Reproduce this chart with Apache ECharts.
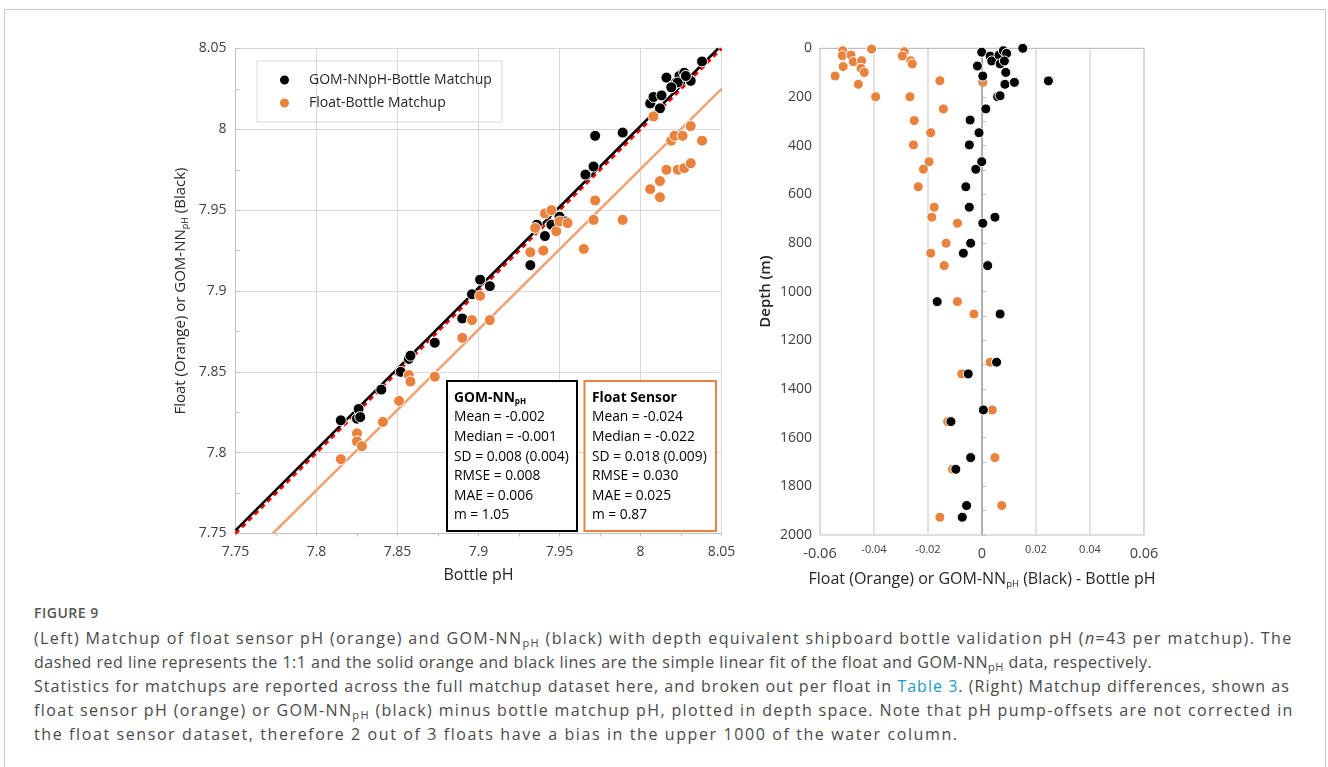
<!DOCTYPE html>
<html>
<head>
<meta charset="utf-8">
<script src="https://cdn.jsdelivr.net/npm/echarts@6/dist/echarts.min.js"></script>
<style>
html,body{margin:0;padding:0;background:#fff;width:1328px;height:767px;overflow:hidden;}
#frame{position:absolute;left:4px;top:9px;width:1322px;height:800px;border:1px solid #c8c8c8;box-sizing:border-box;}
#chart{position:absolute;left:0;top:0;width:1328px;height:600px;}
#cap{position:absolute;left:34px;top:603px;font-family:"Open Sans",sans-serif;color:#4a4a4a;}
#cap .t{font-size:14px;font-weight:600;line-height:20px;color:#555;letter-spacing:0.5px;}
#cap .b{margin-top:3px;font-size:16px;line-height:24px;white-space:nowrap;}
#cap .l{display:block;height:24px;}
#cap sub{font-size:11px;vertical-align:-3px;line-height:0;}
#cap a{color:#1a9bc9;text-decoration:none;}
</style>
</head>
<body>
<div id="frame"></div>
<div id="chart"></div>
<div id="cap">
<div class="t">FIGURE 9</div>
<div class="b">
<span class="l" style="letter-spacing:1.37px">(Left) Matchup of float sensor pH (orange) and GOM-NN<sub>pH</sub> (black) with depth equivalent shipboard bottle validation pH (<i>n</i>=43 per matchup). The</span>
<span class="l" style="letter-spacing:0.5px">dashed red line represents the 1:1 and the solid orange and black lines are the simple linear fit of the float and GOM-NN<sub>pH</sub> data, respectively.</span>
<span class="l" style="letter-spacing:1.02px">Statistics for matchups are reported across the full matchup dataset here, and broken out per float in <a>Table 3</a>. (Right) Matchup differences, shown as</span>
<span class="l" style="letter-spacing:1.36px">float sensor pH (orange) or GOM-NN<sub>pH</sub> (black) minus bottle matchup pH, plotted in depth space. Note that pH pump-offsets are not corrected in</span>
<span class="l" style="letter-spacing:1.6px">the float sensor dataset, therefore 2 out of 3 floats have a bias in the upper 1000 of the water column.</span>
</div>
</div>
<script>
// ---------- Left panel data (bottle pH vs predicted pH) ----------
const gomBottlePH = [7.815,7.826,7.825,7.827,7.840,7.852,7.857,7.858,7.873,7.890,7.896,7.907,7.901,
  7.932,7.941,7.936,7.945,7.950,7.954,7.966,7.971,7.972,7.989,8.006,8.008,8.013,8.012,8.016,
  8.020,8.022,8.024,8.027,8.023,8.031,8.038,8.019,8.028];
const gomPH = [7.820,7.827,7.821,7.822,7.839,7.850,7.858,7.860,7.868,7.883,7.898,7.903,7.907,
  7.916,7.934,7.941,7.941,7.946,7.943,7.972,7.977,7.996,7.998,8.016,8.020,8.021,8.013,8.032,
  8.027,8.029,8.033,8.035,8.029,8.030,8.042,8.026,8.033];
const floatBottlePH = [7.815,7.825,7.825,7.828,7.841,7.851,7.857,7.858,7.873,7.890,7.896,7.907,7.901,
  7.932,7.940,7.935,7.941,7.945,7.948,7.950,7.955,7.965,7.971,7.972,7.989,8.006,8.012,8.012,
  8.016,8.023,8.027,8.031,8.019,8.021,8.026,8.031,8.038,8.008];
const floatPH = [7.796,7.812,7.807,7.804,7.819,7.832,7.848,7.844,7.847,7.871,7.882,7.882,7.897,
  7.924,7.925,7.939,7.948,7.950,7.937,7.943,7.942,7.926,7.944,7.956,7.944,7.963,7.968,7.958,
  7.975,7.975,7.976,7.979,7.993,7.996,7.996,8.002,7.993,8.008];
// lines: 1:1, GOM-NN fit, float fit (end points)
const oneToOneX = [7.75, 8.05];
const oneToOneY = [7.75, 8.05];
const gomFitX = [7.75, 8.048];
const gomFitY = [7.752, 8.05];
const floatFitX = [7.773, 8.05];
const floatFitY = [7.75, 8.025];
const leftTickLabels = ['7.75','7.8','7.85','7.9','7.95','8','8.05'];

// ---------- Right panel data (difference vs depth) ----------
const gomDiff = [-0.0001,0.0030,0.0036,0.0063,0.0079,0.0091,0.0067,0.0083,0.0151,-0.0017,0.0003,0.0088,
  0.0085,0.0120,0.0058,0.0067,0.0014,-0.0044,-0.0011,-0.0047,-0.0001,-0.0023,-0.0060,-0.0047,0.0048,
  0.0003,-0.0042,-0.0069,0.0021,0.0246,-0.0166,0.0067,0.0054,-0.0051,0.0005,-0.0115,-0.0042,-0.0097,
  -0.0057,-0.0073];
const gomDepth = [16,32,52,28,10,21,64,52,0,73,114,99,148,140,199,195,249,295,347,397,466,497,569,653,694,
  719,801,842,893,134,1041,1092,1290,1338,1486,1534,1682,1730,1879,1927];
const floatDiff = [-0.0516,-0.0517,-0.0485,-0.0477,-0.0446,-0.0448,-0.0436,-0.0514,-0.0544,-0.0458,-0.0409,
  -0.0394,-0.0288,-0.0295,-0.0264,-0.0258,-0.0267,-0.0156,-0.0143,-0.0251,-0.0190,-0.0254,-0.0196,-0.0217,
  -0.0236,-0.0177,-0.0186,-0.0091,-0.0133,-0.0190,-0.0140,0.0003,-0.0091,-0.0030,0.0030,-0.0075,0.0038,
  -0.0127,0.0048,-0.0109,0.0073,-0.0156];
const floatDepth = [10,30,28,55,51,82,99,75,114,148,3,199,14,32,51,64,199,133,249,297,347,397,466,497,569,
  653,694,719,801,842,893,140,1041,1092,1290,1338,1486,1534,1682,1730,1879,1927];
// the reference prints the end and zero ticks larger than the others
const rightXBigTicks = [-0.06, 0, 0.06];
const rightXBigLabels = ['-0.06', '0', '0.06'];
const rightXSmallTicks = [-0.04, -0.02, 0.02, 0.04];
const rightXSmallLabels = ['-0.04', '-0.02', '0.02', '0.04'];
const rightYTickLabels = ['0','200','400','600','800','1000','1200','1400','1600','1800','2000'];

// ---------- Stats text ----------
const gomStats = ['Mean = -0.002','Median = -0.001','SD = 0.008 (0.004)','RMSE = 0.008','MAE = 0.006','m = 1.05'];
const floatStats = ['Mean = -0.024','Median = -0.022','SD = 0.018 (0.009)','RMSE = 0.030','MAE = 0.025','m = 0.87'];

const ORANGE = '#E8823C';
const ORANGE_LINE = '#F0A274';
const FONT = 'Open Sans';
const zip = (a, b) => a.map((v, i) => [v, b[i]]);
function pick(ticks, labels, v) {
  let k = 0;
  ticks.forEach((t, i) => { if (Math.abs(t - v) < 1e-6) k = i; });
  return labels[k];
}

const chart = echarts.init(document.getElementById('chart'));
const labelColor = '#404040';

const option = {
  animation: false,
  textStyle: { fontFamily: FONT },
  grid: [
    { left: 235.5, top: 48.5, width: 486, height: 485, show: true, borderColor: '#d9d9d9', borderWidth: 1 },
    { left: 820, top: 48.3, width: 324, height: 486.7, show: true, borderColor: '#bfbfbf', borderWidth: 1 }
  ],
  legend: {
    data: ['GOM-NNpH-Bottle Matchup', 'Float-Bottle Matchup'],
    left: 257, top: 61, orient: 'vertical',
    borderColor: '#d9d9d9', borderWidth: 1,
    padding: [12, 10, 12, 21], itemGap: 9,
    itemWidth: 11, itemHeight: 11, icon: 'circle',
    textStyle: { fontSize: 14, color: '#262626', fontFamily: FONT, padding: [0, 0, 0, 14] }
  },
  xAxis: [
    {
      type: 'value', gridIndex: 0, min: 7.75, max: 8.05, interval: 0.05,
      axisLine: { lineStyle: { color: '#bfbfbf' } },
      axisTick: { show: true, length: 3, lineStyle: { color: '#bfbfbf' } },
      minorTick: { show: true, splitNumber: 2, length: 3, lineStyle: { color: '#bfbfbf' } },
      splitLine: { show: true, lineStyle: { color: '#d9d9d9' } },
      axisLabel: { fontSize: 14, color: labelColor, margin: 12, formatter: (v, i) => leftTickLabels[i] },
      name: 'Bottle pH', nameLocation: 'middle', nameGap: 34,
      nameTextStyle: { fontSize: 16, color: '#262626' }
    },
    {
      type: 'value', gridIndex: 1, min: -0.06, max: 0.06, interval: 0.02, position: 'bottom',
      axisLine: { lineStyle: { color: '#bfbfbf' } },
      axisTick: { show: false },
      splitLine: { show: true, lineStyle: { color: '#d9d9d9', width: 1.5 } },
      axisLabel: {
        margin: 11, color: labelColor, fontSize: 14.5,
        customValues: rightXBigTicks,
        formatter: (v) => pick(rightXBigTicks, rightXBigLabels, v)
      },
      name: 'Float (Orange) or GOM-NN{s|pH} (Black) - Bottle pH', nameLocation: 'middle', nameGap: 35,
      nameTextStyle: {
        fontSize: 16, color: '#262626',
        rich: { s: { fontSize: 9.5, color: '#262626', padding: [9, 0, 0, 0], fontFamily: FONT } }
      }
    },
    {
      type: 'value', gridIndex: 1, min: -0.06, max: 0.06, interval: 0.02, position: 'bottom',
      axisLine: { show: false },
      axisTick: { show: false },
      splitLine: { show: false },
      axisLabel: {
        margin: 9, color: labelColor, fontSize: 11,
        customValues: rightXSmallTicks,
        formatter: (v) => pick(rightXSmallTicks, rightXSmallLabels, v)
      }
    }
  ],
  yAxis: [
    {
      type: 'value', gridIndex: 0, min: 7.75, max: 8.05, interval: 0.05,
      axisLine: { show: true, lineStyle: { color: '#bfbfbf' } },
      axisTick: { show: true, inside: true, length: 4, lineStyle: { color: '#bfbfbf' } },
      minorTick: { show: true, splitNumber: 2, length: 4, lineStyle: { color: '#bfbfbf' } },
      splitLine: { show: true, lineStyle: { color: '#d9d9d9' } },
      axisLabel: { fontSize: 14, color: labelColor, margin: 9, formatter: (v, i) => leftTickLabels[i] },
      name: 'Float (Orange) or GOM-NN{s|pH} (Black)', nameLocation: 'middle', nameGap: 46, nameRotate: 90,
      nameTextStyle: {
        fontSize: 15, color: '#262626',
        rich: { s: { fontSize: 9, color: '#262626', padding: [9, 0, 0, 0], fontFamily: FONT } }
      }
    },
    {
      type: 'value', gridIndex: 1, min: 0, max: 2000, interval: 200, inverse: true,
      axisLine: { show: true, lineStyle: { color: '#bfbfbf' } },
      axisTick: { show: true, inside: true, length: 4, lineStyle: { color: '#bfbfbf' } },
      minorTick: { show: true, splitNumber: 2, length: 4, lineStyle: { color: '#bfbfbf' } },
      splitLine: { show: false },
      axisLabel: { fontSize: 14, color: labelColor, margin: 8, formatter: (v, i) => rightYTickLabels[i] },
      name: 'Depth (m)', nameLocation: 'middle', nameGap: 47, nameRotate: 90,
      nameTextStyle: { fontSize: 15, color: '#262626', fontWeight: 600 }
    }
  ],
  series: [
    {
      type: 'line', xAxisIndex: 0, yAxisIndex: 0, data: zip(oneToOneX, oneToOneY), symbol: 'none', z: 2,
      lineStyle: { color: '#ff0000', width: 3, type: [5, 4] }, silent: true
    },
    {
      type: 'line', xAxisIndex: 0, yAxisIndex: 0, data: zip(gomFitX, gomFitY), symbol: 'none', z: 3,
      lineStyle: { color: '#000', width: 2.5 }, silent: true
    },
    {
      type: 'line', xAxisIndex: 0, yAxisIndex: 0, data: zip(floatFitX, floatFitY), symbol: 'none', z: 3,
      lineStyle: { color: ORANGE_LINE, width: 2.5 }, silent: true
    },
    {
      name: 'GOM-NNpH-Bottle Matchup', type: 'scatter', xAxisIndex: 0, yAxisIndex: 0, z: 4,
      data: zip(gomBottlePH, gomPH), symbolSize: 11,
      itemStyle: { color: '#000', borderColor: '#fff', borderWidth: 1, opacity: 1 }
    },
    {
      name: 'Float-Bottle Matchup', type: 'scatter', xAxisIndex: 0, yAxisIndex: 0, z: 5,
      data: zip(floatBottlePH, floatPH), symbolSize: 11,
      itemStyle: { color: ORANGE, borderColor: '#fff', borderWidth: 1, opacity: 1 }
    },
    {
      type: 'line', xAxisIndex: 1, yAxisIndex: 1, data: [], z: 1, silent: true,
      markLine: {
        symbol: 'none', silent: true, label: { show: false },
        lineStyle: { color: '#a6a6a6', width: 1.5, type: 'solid' },
        data: [{ xAxis: 0 }]
      }
    },
    {
      name: 'Float-Bottle Matchup', type: 'scatter', xAxisIndex: 1, yAxisIndex: 1, z: 4,
      data: zip(floatDiff, floatDepth), symbolSize: 10,
      itemStyle: { color: ORANGE, borderColor: '#fff', borderWidth: 1, opacity: 1 }
    },
    {
      name: 'GOM-NNpH-Bottle Matchup', type: 'scatter', xAxisIndex: 1, yAxisIndex: 1, z: 5,
      data: zip(gomDiff, gomDepth), symbolSize: 10,
      itemStyle: { color: '#000', borderColor: '#fff', borderWidth: 1, opacity: 1 }
    }
  ],
  graphic: [
    { type: 'rect', z: 10, shape: { x: 447, y: 381, width: 130, height: 150 },
      style: { fill: '#fff', stroke: '#000', lineWidth: 2 } },
    { type: 'text', z: 11, x: 454, y: 388,
      style: {
        text: '{h|GOM-NN}{s|pH}\n' + gomStats.join('\n'),
        fontFamily: FONT, fontSize: 13.8, lineHeight: 19.6, fill: '#000',
        rich: {
          h: { fontWeight: 'bold', fontSize: 13.8, lineHeight: 19.6, fontFamily: FONT, fill: '#000' },
          s: { fontWeight: 'bold', fontSize: 8, lineHeight: 19.6, fontFamily: FONT, fill: '#000', padding: [8, 0, 0, 0] }
        }
      } },
    { type: 'rect', z: 10, shape: { x: 584.5, y: 381, width: 131.5, height: 150 },
      style: { fill: '#fff', stroke: ORANGE, lineWidth: 2 } },
    { type: 'text', z: 11, x: 592, y: 388,
      style: {
        text: '{h|Float Sensor}\n' + floatStats.join('\n'),
        fontFamily: FONT, fontSize: 13.8, lineHeight: 19.6, fill: '#000',
        rich: {
          h: { fontWeight: 'bold', fontSize: 13.8, lineHeight: 19.6, fontFamily: FONT, fill: '#000' }
        }
      } }
  ]
};
chart.setOption(option);
</script>
</body>
</html>
